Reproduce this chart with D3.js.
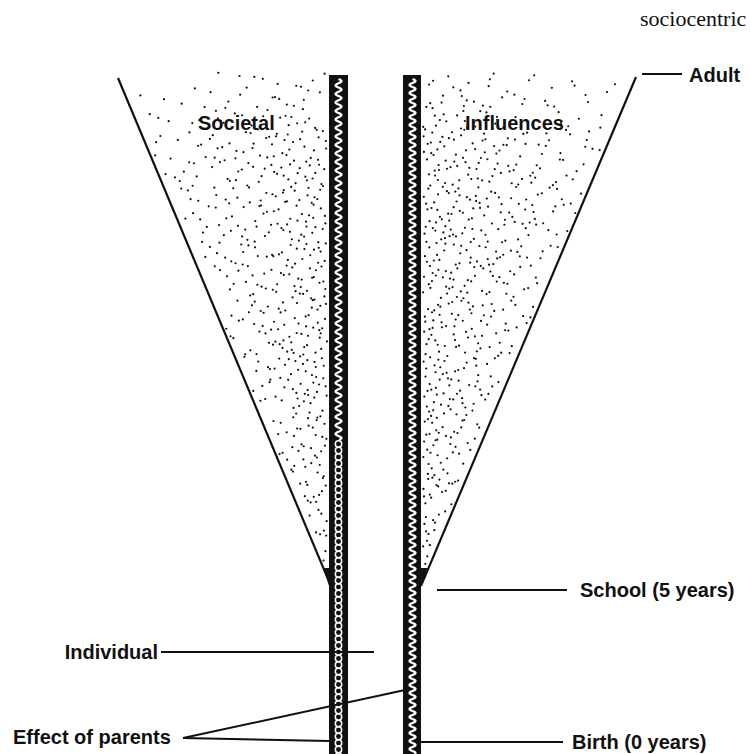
<!DOCTYPE html>
<html><head><meta charset="utf-8">
<script src="https://cdn.jsdelivr.net/npm/d3@7"></script>
<style>html,body{margin:0;padding:0;background:#fff;}svg{display:block;}</style>
</head><body>
<script>
// ---- data ----
const stages = ["Birth (0 years)", "School (5 years)", "Adult"];
const stageAges = [0, 5, 21];
const regionLabels = ["Societal", "Influences"];
const sideLabels = ["Individual", "Effect of parents"];
const title = "sociocentric";
// influence width (0 = none, 1 = full) at school and adulthood
const influenceAges = [5, 21];
const influenceWidth = [0, 1];

const W = 750, H = 754;
const svg = d3.select("body").append("svg").attr("width", W).attr("height", H);
svg.append("rect").attr("width", W).attr("height", H).attr("fill", "#fff");

const y = d3.scaleLinear().domain([0, 21]).range([742, 78]);
const leftW = d3.scaleLinear().domain([0, 1]).range([330, 118]);
const rightW = d3.scaleLinear().domain([0, 1]).range([421, 636]);

const wallL = [329, 348], wallR = [403, 421];
const font = "'Liberation Sans', Arial, Helvetica, sans-serif";

// ---- stipple texture via deterministic Halton sequence ----
function halton(i, b) { let f = 1, r = 0; while (i > 0) { f /= b; r += f * (i % b); i = Math.floor(i / b); } return r; }
const wfun = d3.scaleLinear().domain(influenceAges).range(influenceWidth);
const yTop = y(stageAges[2]), yApex = y(stageAges[1]);
const dots = [];
const topFade = d => Math.min(1, 0.35 + d * 4);
// left
for (let i = 1; i < 2600; i++) {
  const u = halton(i, 2), v = halton(i, 3), w = halton(i, 5);
  const yy = yTop - 6 + v * (yApex - yTop + 6);
  const fw = wfun(Math.min(21, y.invert(yy)));
  const xe = leftW(fw), xw = wallL[0] - 2;
  const xx = 112 + u * (xw - 112);
  if (xx > xe + 3 && xx < xw) {
    const t = (xx - xe) / (xw - xe);
    const depth = (yy - yTop) / (yApex - yTop);
    if (w < (0.12 + 0.5 * t + 0.2 * depth) * topFade(depth)) dots.push([xx, yy]);
  }
}
// right
for (let i = 1; i < 2600; i++) {
  const u = halton(i + 3001, 2), v = halton(i + 3001, 3), w = halton(i + 3001, 7);
  const yy = yTop - 6 + v * (yApex - yTop + 6);
  const fw = wfun(Math.min(21, y.invert(yy)));
  const xe = rightW(fw), xw = wallR[1] + 2;
  const xx = xw + u * (642 - xw);
  if (xx < xe - 3 && xx > xw) {
    const t = (xe - xx) / (xe - xw);
    const depth = (yy - yTop) / (yApex - yTop);
    if (w < (0.16 + 0.55 * t + 0.2 * depth) * topFade(depth)) dots.push([xx, yy]);
  }
}
svg.append("g").selectAll("circle").data(dots).join("circle")
  .attr("cx", d => d[0]).attr("cy", d => d[1]).attr("r", 1.1).attr("fill", "#111");

// ---- cone edges ----
const lineGen = d3.line();
svg.append("path").attr("d", lineGen([[leftW(1), y(21)], [leftW(0), y(5)]]))
  .attr("stroke", "#111").attr("stroke-width", 2.2).attr("fill", "none");
svg.append("path").attr("d", lineGen([[rightW(1), y(21) - 1], [rightW(0), y(5) + 2]]))
  .attr("stroke", "#111").attr("stroke-width", 2.2).attr("fill", "none");
svg.append("path").attr("d", lineGen([[leftW(0.03), y(5.5)], [wallL[0], y(5.5)], [wallL[0], y(5) + 2]]) + "Z").attr("fill", "#111");
svg.append("path").attr("d", lineGen([[rightW(0.03), y(5.5)], [wallR[1], y(5.5)], [wallR[1], y(5) + 3]]) + "Z").attr("fill", "#111");

// ---- walls ----
const wallTop = 75;
svg.append("rect").attr("x", wallL[0]).attr("y", wallTop).attr("width", wallL[1] - wallL[0]).attr("height", H - wallTop).attr("fill", "#111");
svg.append("rect").attr("x", wallR[0]).attr("y", wallTop).attr("width", wallR[1] - wallR[0]).attr("height", H - wallTop).attr("fill", "#111");

function wave(cx, y0, y1, amp, per) {
  const pts = [];
  for (let yy = y0; yy <= y1; yy += 0.5) pts.push([cx + amp * Math.sin(2 * Math.PI * (yy - y0) / per), yy]);
  return d3.line()(pts);
}
const chainStart = 440;
svg.append("path").attr("d", wave(338.5, wallTop + 4, chainStart, 3, 8.5))
  .attr("stroke", "#fff").attr("stroke-width", 2.2).attr("fill", "none");
svg.append("path").attr("d", wave(412.5, wallTop + 4, H, 3, 8))
  .attr("stroke", "#fff").attr("stroke-width", 2.2).attr("fill", "none");
const chain = d3.range(chainStart + 4, H + 4, 6.5);
svg.append("g").selectAll("circle").data(chain).join("circle")
  .attr("cx", 338.5).attr("cy", d => d).attr("r", 3.2)
  .attr("fill", "none").attr("stroke", "#fff").attr("stroke-width", 1.5);

// ---- annotation lines ----
const ln = (x1, y1, x2, y2, sw) => svg.append("line").attr("x1", x1).attr("y1", y1).attr("x2", x2).attr("y2", y2)
  .attr("stroke", "#111").attr("stroke-width", sw || 2);
ln(642, y(stageAges[2]) - 4, 682, y(stageAges[2]) - 4);
ln(437, y(stageAges[1]) + 6, 567, y(stageAges[1]) + 6);
ln(wallR[1], y(stageAges[0]), 563, y(stageAges[0]));
ln(161, 652, 374, 652);
ln(183, 738, wallR[0] + 2, 690);
ln(183, 738, wallL[0], 741);

// ---- text ----
const txt = (s, x, yy, anchor, size, fam, weight) => svg.append("text").text(s)
  .attr("x", x).attr("y", yy).attr("text-anchor", anchor || "start")
  .attr("font-family", fam || font).attr("font-size", size || 20)
  .attr("font-weight", weight || "bold").attr("fill", "#111");
txt(title, 640, 26, "start", 22, "'Liberation Serif', 'Times New Roman', serif", "normal");
txt(stages[2], 689, 82);
txt(stages[1], 580, y(stageAges[1]) + 13);
txt(stages[0], 572, y(stageAges[0]) + 7);
txt(regionLabels[0], 198, 130);
txt(regionLabels[1], 465, 130);
txt(sideLabels[0], 158, 659, "end");
txt(sideLabels[1], 13, 744);
</script>
</body></html>
